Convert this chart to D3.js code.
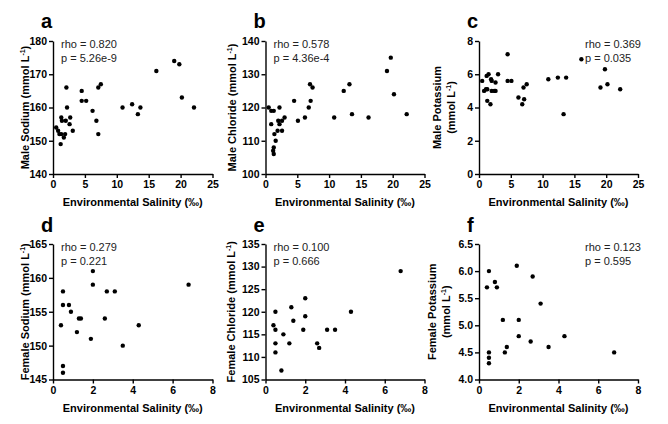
<!DOCTYPE html>
<html>
<head>
<meta charset="utf-8">
<script src="https://cdn.jsdelivr.net/npm/d3@7"></script>
<style>
  body { margin: 0; background: #fff; }
  svg { font-family: Arial, "Liberation Sans", sans-serif; }
</style>
</head>
<body>
<script>
// male fish: salinity (‰) vs plasma ions
const maleNaSal = [0.5,0.8,1.0,1.3,1.7,1.9,1.2,1.3,1.4,2.0,2.1,2.2,2.7,2.6,3.1,4.5,4.5,5.2,6.2,6.8,7.1,7.1,7.5,10.9,12.4,13.3,13.7,16.2,19.0,19.8,20.2,22.1];
const maleNa    = [154,153,152,152,151,152,149,157,156,156,166,160,157,155,153,165,162,162,159,156,152,166,167,160,161,158,160,171,174,173,163,160];

const maleClSal = [0.5,0.9,1.3,0.9,1.4,1.6,1.3,1.2,1.3,2.2,2.0,2.2,2.6,3.0,1.9,2.6,4.5,5.1,6.2,6.8,7.1,7.0,7.4,10.8,12.3,13.2,13.6,16.2,19.1,19.7,20.2,22.2];
const maleCl    = [120,119,119,115,112,110,108,107,106,120,116,115,116,117,113,113,122,116,117,120,122,127,126,117,125,127,118,117,131,135,124,118];

const maleKSal  = [0.5,0.8,1.1,1.3,1.2,1.5,1.3,1.8,1.9,2.0,2.0,2.4,2.6,2.6,3.0,4.5,4.5,5.1,6.2,6.8,7.1,7.0,7.5,10.9,12.4,13.7,13.3,16.1,19.1,19.8,20.2,22.2];
const maleK     = [5.6,5.0,5.1,5.1,5.9,6.0,4.4,4.2,5.7,5.6,5.0,5.0,5.0,5.5,6.0,7.2,5.6,5.6,4.6,4.2,4.5,5.2,5.4,5.7,5.8,5.8,3.6,6.9,5.2,6.3,5.4,5.1];

// female fish, same salinity for all three ions
const femaleSal = [0.4,0.5,0.5,0.5,0.5,0.8,0.9,1.2,1.3,1.4,1.9,2.0,2.0,2.6,2.7,3.1,3.5,4.3,6.8];
const femaleNa  = [153,158,156,147,146,156,155,152,154,154,151,161,159,154,158,158,150,153,159];
const femaleCl  = [117,120,116,113,111,107,115,113,121,118,116,123,119,113,112,116,116,120,129];
const femaleK   = [5.7,6.0,4.5,4.4,4.3,5.8,5.7,5.1,4.5,4.6,6.1,5.1,4.8,4.7,5.9,5.4,4.6,4.8,4.5];

// axis ticks
const maleXTicks   = [0,5,10,15,20,25];
const femaleXTicks = [0,2,4,6,8];
const naMaleTicks  = [140,150,160,170,180];
const clMaleTicks  = [100,110,120,130,140];
const kMaleTicks   = [0,2,4,6,8];
const naFemTicks   = [145,150,155,160,165];
const clFemTicks   = [105,110,115,120,125,130,135];
const kFemTicks    = [4.0,4.5,5.0,5.5,6.0,6.5];

const stats = [
  ["rho = 0.820", "p = 5.26e-9"],
  ["rho = 0.578", "p = 4.36e-4"],
  ["rho = 0.369", "p = 0.035"],
  ["rho = 0.279", "p = 0.221"],
  ["rho = 0.100", "p = 0.666"],
  ["rho = 0.123", "p = 0.595"]
];

const xTitle = "Environmental Salinity (\u2030)";

const cols = [[53, 212.5], [265.5, 424.5], [479, 638]];
const rows = [[174, 41], [379.5, 244]];

const panels = [
  {letter: "a", col: 0, row: 0, xs: maleNaSal, ys: maleNa, xt: maleXTicks, yt: naMaleTicks, yfmt: "d",
   title: [["Male Sodium (mmol L", ")"]], tx: [25], stat: stats[0], statRight: false},
  {letter: "b", col: 1, row: 0, xs: maleClSal, ys: maleCl, xt: maleXTicks, yt: clMaleTicks, yfmt: "d",
   title: [["Male Chloride (mmol L", ")"]], tx: [232], stat: stats[1], statRight: false},
  {letter: "c", col: 2, row: 0, xs: maleKSal, ys: maleK, xt: maleXTicks, yt: kMaleTicks, yfmt: "d",
   title: [["Male Potassium"], ["(mmol L", ")"]], tx: [437, 451], stat: stats[2], statRight: true},
  {letter: "d", col: 0, row: 1, xs: femaleSal, ys: femaleNa, xt: femaleXTicks, yt: naFemTicks, yfmt: "d",
   title: [["Female Sodium (mmol L", ")"]], tx: [25], stat: stats[3], statRight: false},
  {letter: "e", col: 1, row: 1, xs: femaleSal, ys: femaleCl, xt: femaleXTicks, yt: clFemTicks, yfmt: "d",
   title: [["Female Chloride (mmol L", ")"]], tx: [231], stat: stats[4], statRight: false},
  {letter: "f", col: 2, row: 1, xs: femaleSal, ys: femaleK, xt: femaleXTicks, yt: kFemTicks, yfmt: ".1f",
   title: [["Female Potassium"], ["(mmol L", ")"]], tx: [432, 446], stat: stats[5], statRight: true}
];

const svg = d3.select("body").append("svg")
  .attr("width", 668)
  .attr("height", 424);

svg.append("rect").attr("width", 668).attr("height", 424).attr("fill", "#fff");

panels.forEach(p => {
  const xr = cols[p.col], yr = rows[p.row];
  const x = d3.scaleLinear()
    .domain([p.xt[0], p.xt[p.xt.length - 1]])
    .range(xr);
  const y = d3.scaleLinear()
    .domain([p.yt[0], p.yt[p.yt.length - 1]])
    .range(yr);

  const g = svg.append("g");

  // axes
  const xAxis = g.append("g")
    .attr("transform", `translate(0,${yr[0]})`)
    .call(d3.axisBottom(x).tickValues(p.xt).tickFormat(d3.format("d")).tickSize(4).tickSizeOuter(0));
  const yAxis = g.append("g")
    .attr("transform", `translate(${xr[0]},0)`)
    .call(d3.axisLeft(y).tickValues(p.yt).tickFormat(d3.format(p.yfmt)).tickSize(4).tickSizeOuter(0));

  [xAxis, yAxis].forEach(a => {
    a.select(".domain").attr("stroke", "#000").attr("stroke-width", 1.4);
    a.selectAll(".tick line").attr("stroke", "#000").attr("stroke-width", 1.4);
    a.selectAll(".tick text")
      .attr("fill", "#000")
      .attr("font-size", 10.5)
      .attr("font-weight", "bold")
      .attr("font-family", "Arial, 'Liberation Sans', sans-serif");
  });
  xAxis.selectAll(".tick text").attr("y", 7);
  yAxis.selectAll(".tick text").attr("x", -6);

  // points
  g.selectAll("circle")
    .data(p.xs.map((v, i) => [v, p.ys[i]]))
    .join("circle")
    .attr("cx", d => x(d[0]))
    .attr("cy", d => y(d[1]))
    .attr("r", 2.2)
    .attr("fill", "#000");

  // panel letter
  g.append("text")
    .attr("x", xr[0] - 12)
    .attr("y", p.row === 0 ? 28 : 232)
    .attr("font-size", 20)
    .attr("font-weight", "bold")
    .text(p.letter);

  // x title
  g.append("text")
    .attr("x", (xr[0] + xr[1]) / 2)
    .attr("y", yr[0] + 32)
    .attr("text-anchor", "middle")
    .attr("font-size", 11)
    .attr("font-weight", "bold")
    .text(xTitle);

  // y title, with superscript -1
  const cy = (yr[0] + yr[1]) / 2;
  p.title.forEach((parts, i) => {
    const t = g.append("text")
      .attr("transform", `translate(${p.tx[i] + 4},${cy}) rotate(-90)`)
      .attr("text-anchor", "middle")
      .attr("font-size", 11)
      .attr("font-weight", "bold");
    t.append("tspan").text(parts[0]);
    if (parts.length > 1) {
      t.append("tspan").attr("font-size", 7).attr("dy", -4).text("-1");
      t.append("tspan").attr("dy", 4).text(parts[1]);
    }
  });

  // rho / p annotation
  const sx = p.statRight ? 585 : xr[0] + 8;
  const sy = yr[1] + 7;
  p.stat.forEach((s, i) => {
    g.append("text")
      .attr("x", sx)
      .attr("y", sy + i * 14)
      .attr("font-size", 11)
      .attr("fill", "#222")
      .text(s);
  });
});
</script>
</body>
</html>
